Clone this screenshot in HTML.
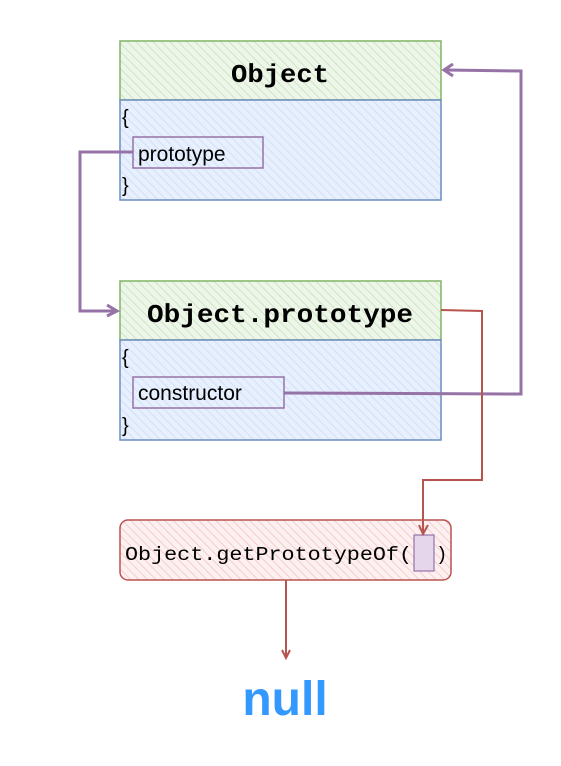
<!DOCTYPE html>
<html><head><meta charset="utf-8"><style>
body{margin:0;width:561px;height:761px;background:#fff;overflow:hidden}
</style></head><body>
<svg width="561" height="761" xmlns="http://www.w3.org/2000/svg">
<defs>
<pattern id="hg" width="6" height="6" patternUnits="userSpaceOnUse" patternTransform="rotate(-45)"><rect width="6" height="6" fill="#eef6ea"/><line x1="0" y1="0" x2="0" y2="6" stroke="#cde5c3" stroke-width="2"/></pattern>
<pattern id="hb" width="6" height="6" patternUnits="userSpaceOnUse" patternTransform="rotate(-45)"><rect width="6" height="6" fill="#e8f0fd"/><line x1="0" y1="0" x2="0" y2="6" stroke="#cfe0fb" stroke-width="2"/></pattern>
<pattern id="hr" width="6" height="6" patternUnits="userSpaceOnUse" patternTransform="rotate(-45)"><rect width="6" height="6" fill="#fdf0f0"/><line x1="0" y1="0" x2="0" y2="6" stroke="#f6cccc" stroke-width="2"/></pattern>
</defs>
<g font-family="Liberation Sans, sans-serif">
<rect x="120" y="41" width="321" height="59" fill="url(#hg)" stroke="#82b366" stroke-width="1.5"/>
<rect x="120" y="100" width="321" height="100" fill="url(#hb)" stroke="#6c8ebf" stroke-width="1.5"/>
<text x="231" y="82" font-size="26" font-weight="bold" font-family="Liberation Mono, monospace" textLength="98" lengthAdjust="spacingAndGlyphs">Object</text>
<text x="122" y="124" font-size="20">{</text>
<text x="122" y="192" font-size="20">}</text>
<rect x="133" y="137" width="130" height="31" fill="none" stroke="#9673a6" stroke-width="1.5"/>
<text x="138" y="161" font-size="21">prototype</text>

<rect x="120" y="281" width="321" height="59" fill="url(#hg)" stroke="#82b366" stroke-width="1.5"/>
<rect x="120" y="340" width="321" height="100" fill="url(#hb)" stroke="#6c8ebf" stroke-width="1.5"/>
<text x="147" y="322" font-size="26" font-weight="bold" font-family="Liberation Mono, monospace" textLength="266" lengthAdjust="spacingAndGlyphs">Object.prototype</text>
<text x="122" y="364" font-size="20">{</text>
<text x="122" y="432" font-size="20">}</text>
<rect x="133" y="377" width="151" height="31" fill="none" stroke="#9673a6" stroke-width="1.5"/>
<text x="138" y="400" font-size="21">constructor</text>

<rect x="120" y="520" width="331" height="60" rx="8" fill="url(#hr)" stroke="#b85450" stroke-width="1.5"/>
<text x="125" y="560" font-size="19" font-family="Liberation Mono, monospace" textLength="287" lengthAdjust="spacingAndGlyphs">Object.getPrototypeOf(</text>
<text x="436" y="560" font-size="19" font-family="Liberation Mono, monospace">)</text>
<rect x="414" y="535" width="20" height="36" fill="#e6d6ec" stroke="#9673a6" stroke-width="1.2"/>

<text x="285" y="715" font-size="48" fill="#3399ff" text-anchor="middle" font-weight="bold">null</text>
</g>
<g fill="none" stroke-width="3" stroke="#9673a6">
<polyline points="133,152 80,152 80,311 114,311"/>
<polyline points="107,305 117,311 107,316"/>
<polyline points="284,393 521,394 521,71 446,70"/>
<polyline points="453,64 444,70 453,76"/>
</g>
<g fill="none" stroke-width="2" stroke="#b85450">
<polyline points="441,310 482,311 482,480 423,480 423,532"/>
<polyline points="419,525 423,534 428,525"/>
<polyline points="286,580 286,656"/>
<polyline points="282,650 286,658 290,650"/>
</g>
</svg>
</body></html>
